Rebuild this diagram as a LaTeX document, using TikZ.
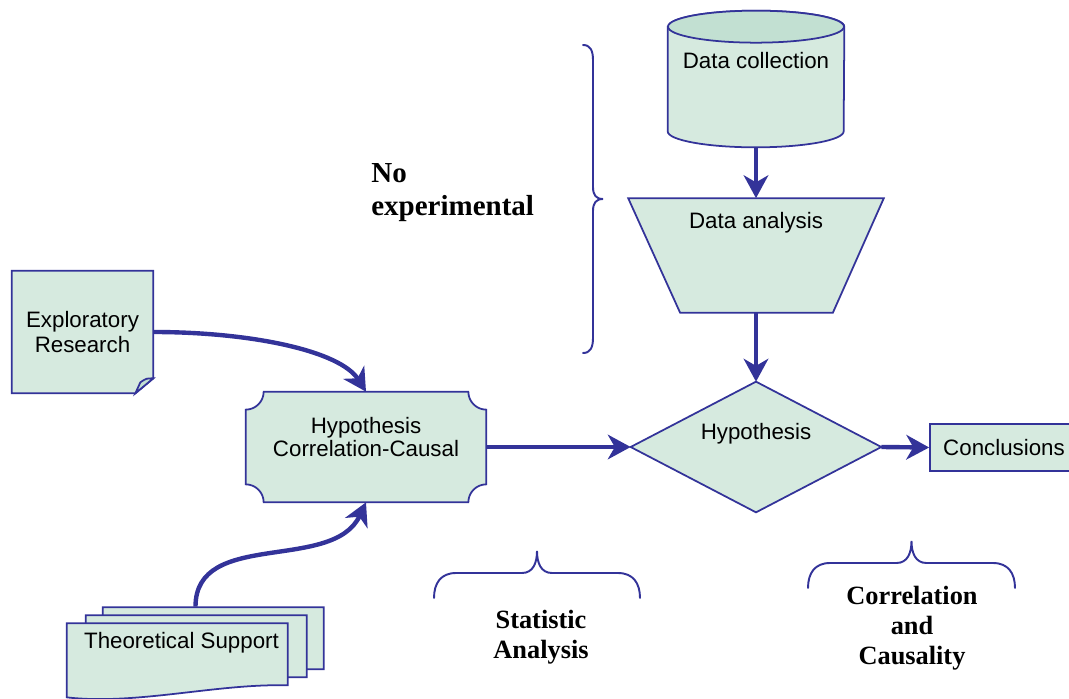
\documentclass[tikz,border=0pt]{standalone}
\usepackage{fontspec}
\setmainfont{Liberation Serif}
\setsansfont{Liberation Sans}
\usetikzlibrary{calc}
\usetikzlibrary{arrows.meta}
\usetikzlibrary{backgrounds}
\definecolor{navy}{RGB}{51,51,153}
\definecolor{mint}{RGB}{214,234,223}
\definecolor{mintdk}{RGB}{194,224,210}

\begin{document}
\begin{tikzpicture}[x=0.02cm, y=0.02cm,
  box/.style={draw=navy, fill=mint, line width=1pt},
  blk/.style={rectangle, inner sep=0pt, font=\sffamily\fontsize{12.7}{14}\selectfont, align=center},
  lbl/.style={font=\sffamily\fontsize{12.7}{13.6}\selectfont, align=center},
  flow/.style={navy, line width=2.5pt, -{Stealth[length=13pt,width=14pt,inset=4pt]}},
  brace/.style={navy, line width=1.1pt, line cap=round},
  note/.style={inner sep=0pt, font=\bfseries\fontsize{15}{16.8}\selectfont, align=center}]
\useasboundingbox (0,0) rectangle (1069,698);

% blocks
\node[blk, minimum width=2.82cm, minimum height=2.44cm] (er) at (82.5,366) {Exploratory\\Research};
\node[blk, minimum width=4.8cm, minimum height=2.2cm,
  label={[lbl,yshift=0.2cm]center:Hypothesis\\Correlation-Causal}] (hcc) at (366,251) {};
\node[blk, minimum width=5.14cm, minimum height=1.8cm,
  label={[lbl,xshift=-0.28cm,yshift=0.176cm]center:Theoretical Support}] (ts) at (195.5,46) {};
\node[blk, minimum width=3.52cm, minimum height=2.72cm,
  label={[lbl,yshift=0.378cm]center:Data collection}] (dc) at (756,619) {};
\node[blk, minimum width=5.1cm, minimum height=2.28cm,
  label={[lbl,yshift=0.66cm]center:Data analysis}] (da) at (756,442.5) {};
\node[blk, minimum width=5cm, minimum height=2.6cm,
  label={[lbl,yshift=0.256cm]center:Hypothesis}] (hyp) at (756,251) {};
\node[blk, box, minimum width=2.96cm, minimum height=0.94cm] (conc) at (1004,250.5) {Conclusions};

% outlines of the blocks
\begin{scope}[on background layer]
\filldraw[box] (er.north west) -- (er.north east) -- ($(er.south east)+(0,15)$)
  -- ($(er.south east)+(-18,0)$) -- (er.south west) -- cycle;
\filldraw[box, fill=mintdk] ($(er.south east)+(-18,0)$) -- ($(er.south east)+(-13,11)$)
  .. controls ($(er.south east)+(-7,15)$) .. ($(er.south east)+(0,15)$) -- cycle;

\filldraw[box] ($(hcc.north west)+(18,0)$) -- ($(hcc.north east)+(-18,0)$)
  arc[start angle=180,end angle=270,radius=18] -- ($(hcc.south east)+(0,18)$)
  arc[start angle=90,end angle=180,radius=18] -- ($(hcc.south west)+(18,0)$)
  arc[start angle=0,end angle=90,radius=18] -- ($(hcc.north west)+(0,-18)$)
  arc[start angle=270,end angle=360,radius=18] -- cycle;

\begin{scope}[shift={(ts.south west)}]
\foreach \dx/\dy in {36/16, 19/8, 0/0}
  \filldraw[box] (\dx,\dy) .. controls (\dx+70,\dy-8) and (\dx+150,\dy+14) .. (\dx+221,\dy+12)
    -- (\dx+221,\dy+74) -- (\dx,\dy+74) -- cycle;
\end{scope}

\filldraw[box] ($(dc.north west)+(0,-16)$) -- ($(dc.south west)+(0,16)$)
  arc[start angle=180,end angle=360,x radius=88,y radius=16]
  -- ($(dc.north east)+(0,-16)$)
  arc[start angle=0,end angle=180,x radius=88,y radius=16] -- cycle;
\filldraw[box, fill=mintdk] ($(dc.north)+(0,-16)$) ellipse[x radius=88, y radius=16];

\filldraw[box] (da.north west) -- (da.north east) -- ($(da.south east)+(-51,0)$)
  -- ($(da.south west)+(52,0)$) -- cycle;

\filldraw[box] (hyp.west) -- (hyp.north) -- (hyp.east) -- (hyp.south) -- cycle;
\end{scope}

% flow arrows
\draw[flow] (er.east) .. controls +(97,0) and +(-26,41) .. (hcc.north);
\draw[flow] (ts.north) to[out=90,in=-115] (hcc.south);
\draw[flow] (hcc.east) -- (hyp.west);
\draw[flow] (dc.south) -- (da.north);
\draw[flow] (da.south) -- (hyp.north);
\draw[flow] (hyp.east) -- (conc.west);

% braces
\draw[brace] (583,653) .. controls (590,653) and (593,648) .. (593,638) -- (593,511)
  .. controls (593,503) and (596,499) .. (603,499)
  .. controls (596,499) and (593,495) .. (593,487) -- (593,360)
  .. controls (593,350) and (590,345) .. (583,345);
\foreach \xa/\xb/\yb in {434/640/100, 808/1015/110} {
  \pgfmathsetmacro\xm{(\xa+\xb)/2}
  \draw[brace] (\xa,\yb) .. controls (\xa,\yb+15) and (\xa+7,\yb+25) .. (\xa+22,\yb+25)
    -- (\xm-15,\yb+25) .. controls (\xm-4,\yb+25) and (\xm,\yb+35) .. (\xm,\yb+47)
    .. controls (\xm,\yb+35) and (\xm+4,\yb+25) .. (\xm+15,\yb+25)
    -- (\xb-22,\yb+25) .. controls (\xb-7,\yb+25) and (\xb,\yb+15) .. (\xb,\yb);
}

% notes (base = last line)
\node[note, anchor=base west, align=left, font=\bfseries\fontsize{16.5}{18.7}\selectfont] (noexp) at (371,483) {No\\experimental};
\node[note, anchor=base] (stat) at (541,40) {Statistic\\Analysis};
\node[note, anchor=base] (corr) at (912,34) {Correlation\\and\\Causality};
\end{tikzpicture}
\end{document}
